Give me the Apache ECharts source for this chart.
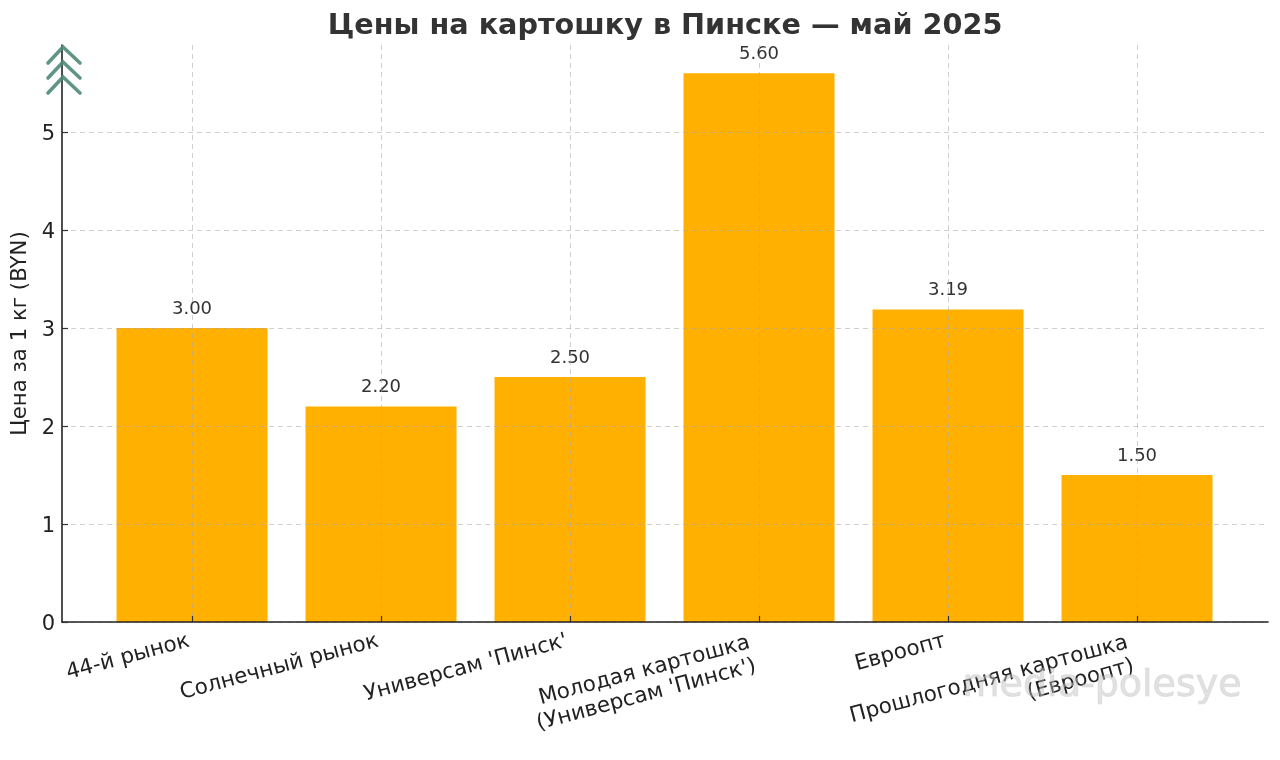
<!DOCTYPE html>
<html><head><meta charset="utf-8">
<style>html,body{margin:0;padding:0;background:#fff}#c{width:1280px;height:760px}</style>
<script src="https://cdn.jsdelivr.net/npm/echarts@6/dist/echarts.min.js"></script>
</head><body><div id="c"></div>
<script>
const titleText = 'Цены на картошку в Пинске — май 2025';
const yName = 'Цена за 1 кг (BYN)';
const categories = ['44-й рынок','Солнечный рынок',"Универсам 'Пинск'",'Молодая картошка\n(Универсам \'Пинск\')','Евроопт','Прошлогодняя картошка\n(Евроопт)'];
const prices = [3.00,2.20,2.50,5.60,3.19,1.50];
const positions = [0,1,2,3,4,5];
const yTicks = [0,1,2,3,4,5];
const xMin = -0.688, xMax = 5.693;
const font = '"DejaVu Sans"';
const chart = echarts.init(document.getElementById('c'), null, {renderer:'canvas'});
const chevron = (y) => ({type:'polyline', z:20, shape:{points:[[48,y+16],[63,y],[80,y+16]]},
  style:{stroke:'#4f8a75', lineWidth:3.6, fill:null, lineCap:'round', opacity:.9}});
chart.setOption({
  animation:false,
  backgroundColor:'#fff',
  title:{text:titleText,left:660,top:7,textAlign:'center',textStyle:{fontFamily:font,fontSize:28.7,fontWeight:'bold',color:'#333'}},
  grid:{left:62,right:12,top:45,bottom:138},
  xAxis:{type:'value',min:xMin,max:xMax,z:5,
    axisLine:{show:true,onZero:false,lineStyle:{color:'#222',width:1.6}},
    axisTick:{show:true,inside:true,length:6,customValues:positions,lineStyle:{color:'#333',width:1.2}},
    splitLine:{show:true,lineStyle:{color:'rgba(170,170,170,.55)',type:[5,4],width:1}},
    axisLabel:{rotate:15,margin:18,customValues:positions.concat([xMax]),hideOverlap:false,
      fontFamily:font,fontSize:21.5,color:'#222',lineHeight:24,padding:[0,3,0,0],
      formatter:v=>{const c=categories[v];if(!c)return '';const ls=c.split('\n');return ls.length>1?'\u00a0\n'+ls.map(s=>s+'\u00a0').join('\n'):c;}}
  },
  yAxis:{type:'value',min:0,max:5.888,z:5,name:yName,nameLocation:'middle',nameGap:26,
    nameTextStyle:{fontFamily:font,fontSize:21.3,color:'#222'},
    axisLine:{show:true,onZero:false,lineStyle:{color:'#222',width:1.6}},
    axisTick:{show:true,inside:true,length:6,customValues:yTicks,lineStyle:{color:'#333',width:1.2}},
    splitLine:{show:true,lineStyle:{color:'rgba(170,170,170,.55)',type:[5,4],width:1}},
    axisLabel:{customValues:yTicks,margin:7,fontFamily:font,fontSize:21,color:'#222',verticalAlign:'top',lineHeight:5}
  },
  series:[{type:'bar',barWidth:151,data:positions.map(i=>[i,prices[i]]),
    itemStyle:{color:'#ffb000'},
    label:{show:true,position:'top',distance:10,fontFamily:font,fontSize:18,color:'#333',
      formatter:p=>p.value[1].toFixed(2)}}],
  graphic:[chevron(47),chevron(62),chevron(77),
    {type:'text',z:20,left:962,top:667,style:{text:'media-polesye',fontFamily:font,fontSize:38,fill:'rgba(190,190,190,.45)',stroke:'rgba(190,190,190,.3)',lineWidth:1.2}}]
});
</script></body></html>
